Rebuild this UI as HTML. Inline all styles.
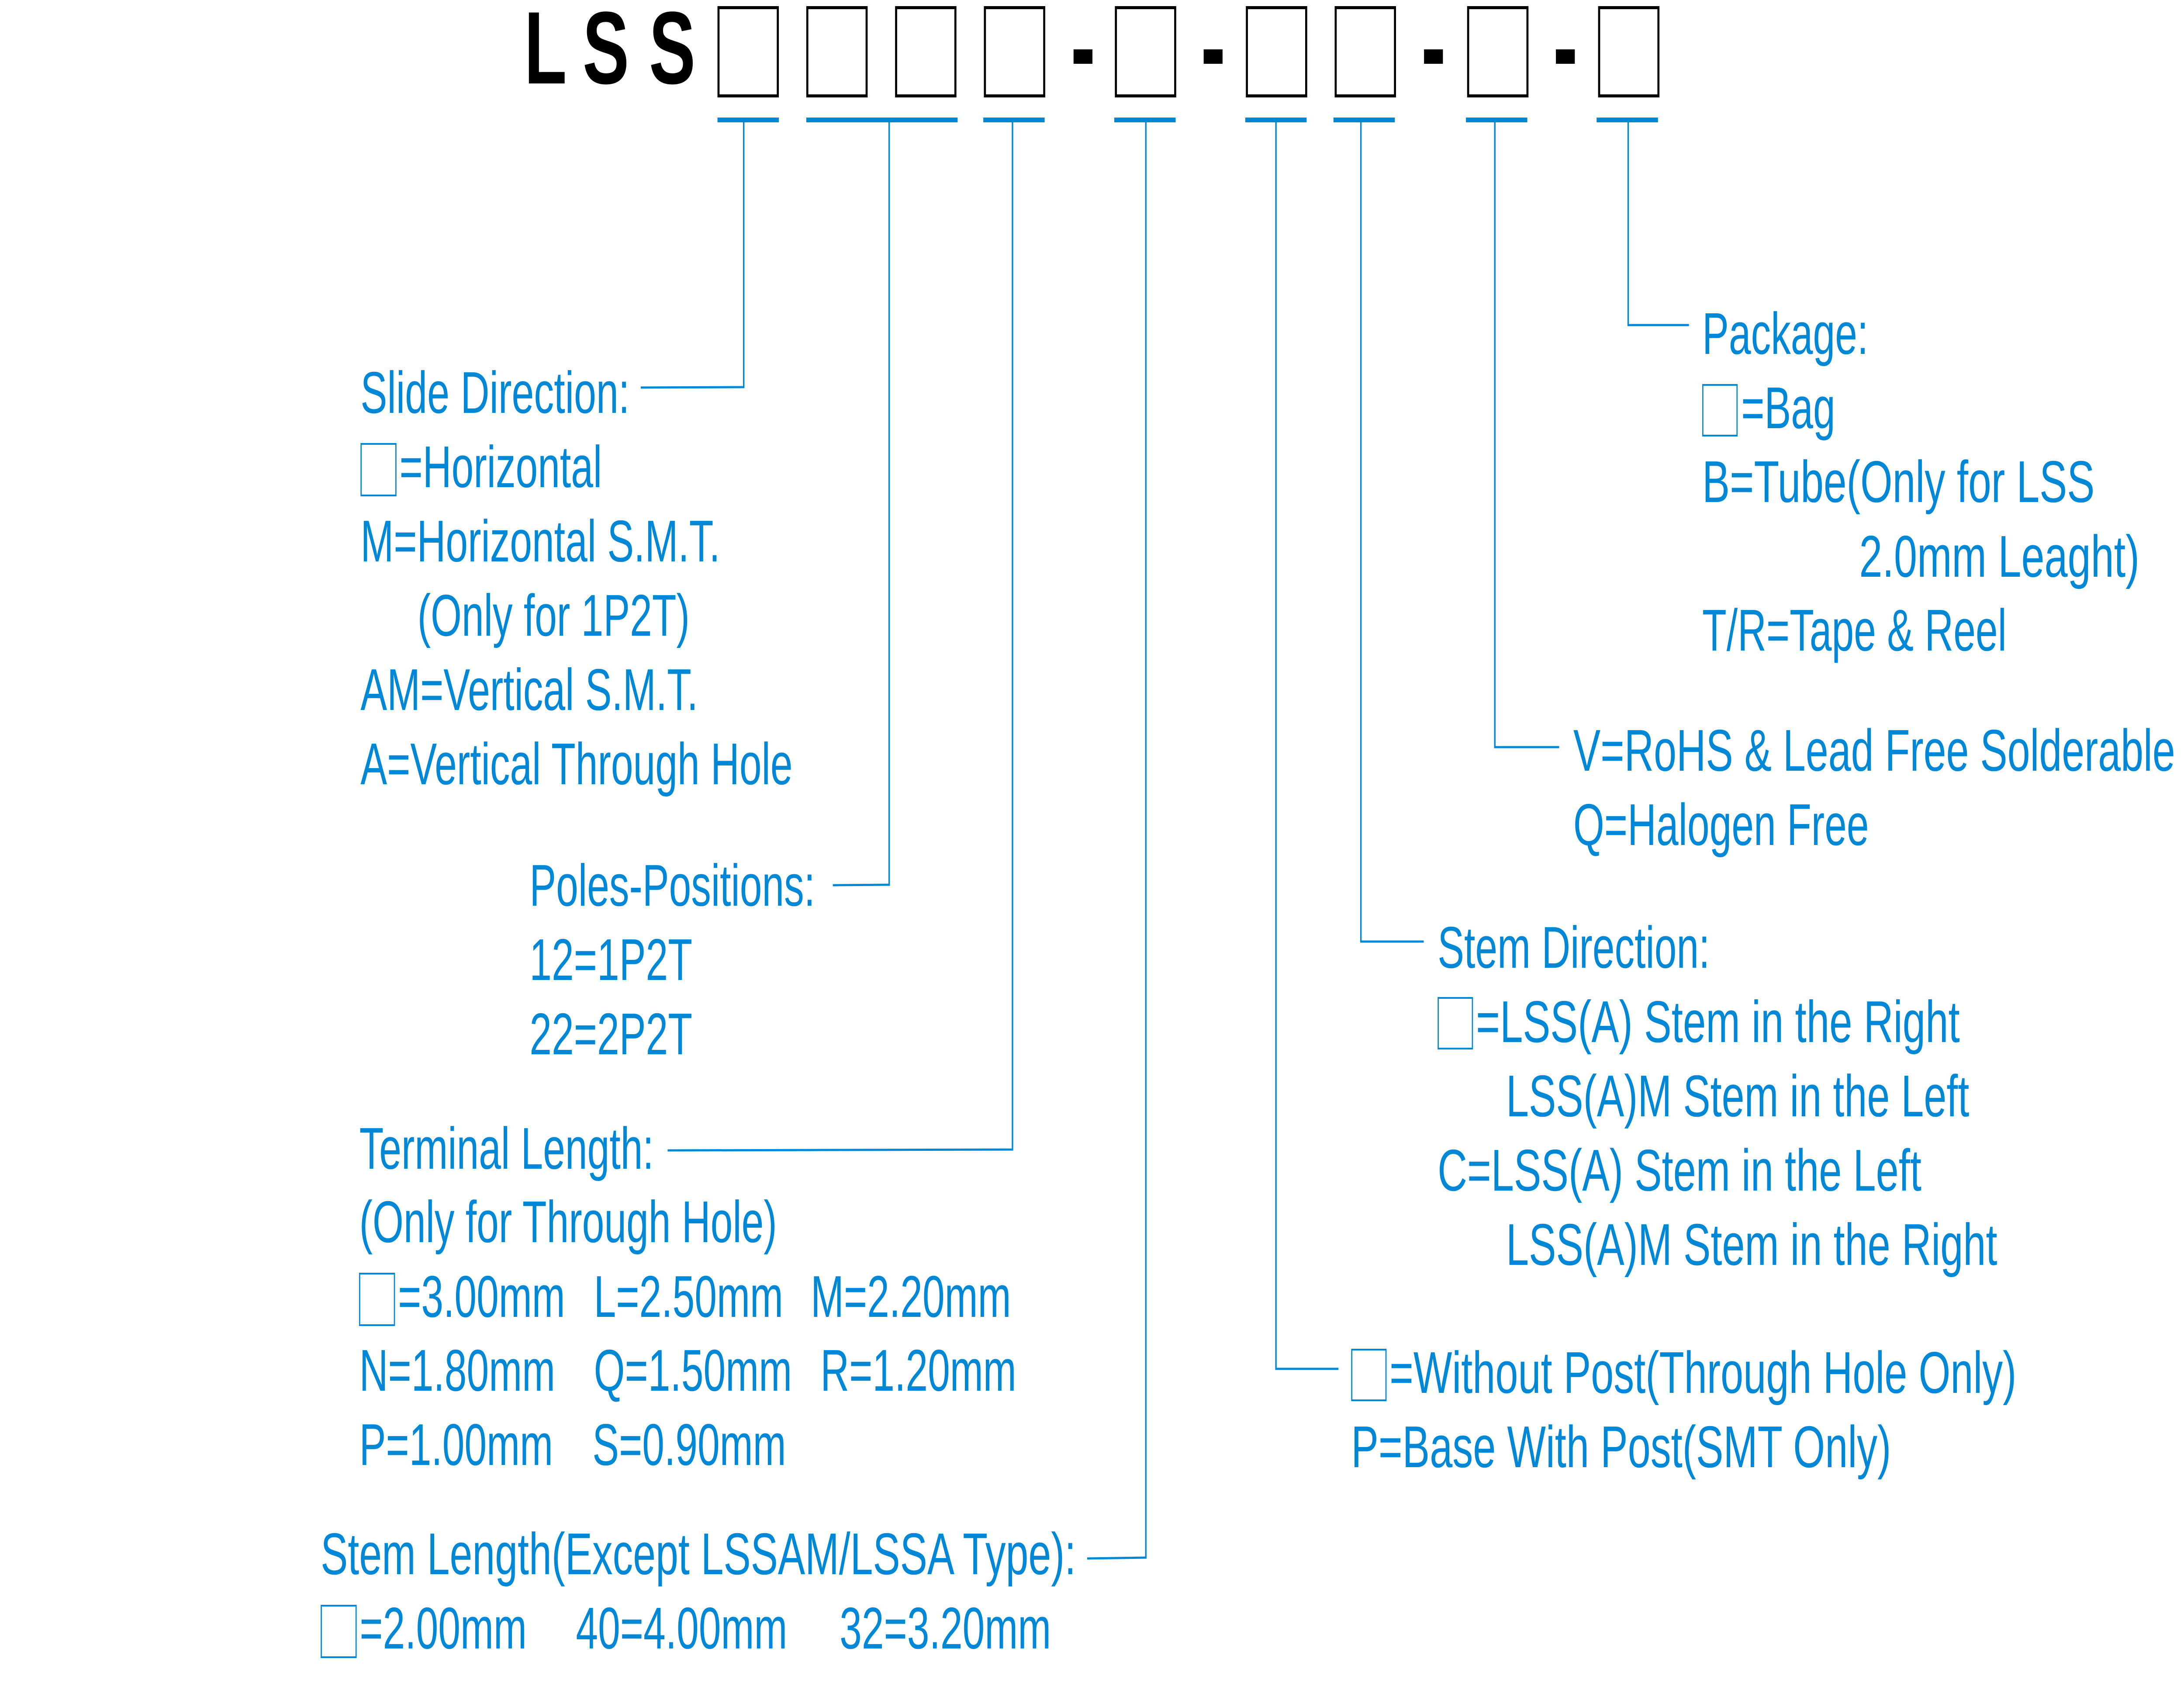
<!DOCTYPE html>
<html><head><meta charset="utf-8"><style>
html,body{margin:0;padding:0;background:#fff;width:100%;height:100%;overflow:hidden;}
svg{display:block;width:100vw;height:100vh;}
text{font-family:"Liberation Sans",Arial,sans-serif;}
.t{fill:#0088d6;font-size:135px;}
.k{fill:#000;font-size:236px;font-weight:bold;}
</style></head><body>
<svg viewBox="0 0 7403 3852" preserveAspectRatio="none" xmlns="http://www.w3.org/2000/svg">
<text class="k" x="1777" y="191">L</text>
<text class="k" x="1975" y="191">S</text>
<text class="k" x="2200" y="191">S</text>
<g fill="none" stroke="#000" stroke-width="7">
<rect x="2435.5" y="17.5" width="201" height="202"/>
<rect x="2736.5" y="17.5" width="201" height="202"/>
<rect x="3037.5" y="17.5" width="201" height="202"/>
<rect x="3338.5" y="17.5" width="201" height="202"/>
<rect x="3782.5" y="17.5" width="201" height="202"/>
<rect x="4226.5" y="17.5" width="201" height="202"/>
<rect x="4527.5" y="17.5" width="201" height="202"/>
<rect x="4976.5" y="17.5" width="201" height="202"/>
<rect x="5420.5" y="17.5" width="201" height="202"/>
</g>
<g fill="#000">
<rect x="3639" y="113" width="64" height="33"/>
<rect x="4080" y="113" width="64" height="33"/>
<rect x="4827" y="113" width="64" height="33"/>
<rect x="5274" y="113" width="64" height="33"/>
</g>
<g fill="#0088d6">
<rect x="2432" y="269" width="208" height="11"/>
<rect x="2733" y="269" width="513" height="11"/>
<rect x="3333" y="269" width="208" height="11"/>
<rect x="3777" y="269" width="208" height="11"/>
<rect x="4221" y="269" width="208" height="11"/>
<rect x="4520" y="269" width="208" height="11"/>
<rect x="4969" y="269" width="208" height="11"/>
<rect x="5412" y="269" width="208" height="11"/>
</g>
<g fill="none" stroke="#0088d6" stroke-width="5">
<polyline points="2521,280 2521,886 2172,887"/>
<polyline points="3014,280 3014,2025 2823,2026"/>
<polyline points="3432,280 3432,2631 2263,2633"/>
<polyline points="3884,280 3884,3565 3685,3567"/>
<polyline points="4325,280 4325,3133 4537,3133"/>
<polyline points="4613,280 4613,2155 4826,2155"/>
<polyline points="5067,280 5067,1710 5285,1710"/>
<polyline points="5519,280 5519,744 5725,744"/>
</g>
<g transform="translate(0,20)">
<g fill="none" stroke="#0088d6" stroke-width="4">
<rect x="1224" y="996" width="118" height="118"/>
<rect x="5772" y="861" width="116" height="116"/>
<rect x="4875" y="2264" width="116" height="116"/>
</g>
<g class="t">
<text x="1222" y="925" textLength="912" lengthAdjust="spacingAndGlyphs">Slide Direction:</text>
<text x="1354" y="1095">=Horizontal</text>
<text x="1222" y="1265">M=Horizontal S.M.T.</text>
<text x="1415" y="1435">(Only for 1P2T)</text>
<text x="1222" y="1605">AM=Vertical S.M.T.</text>
<text x="1222" y="1775">A=Vertical Through Hole</text>
<text x="1795" y="2053">Poles-Positions:</text>
<text x="1795" y="2223">12=1P2T</text>
<text x="1795" y="2393">22=2P2T</text>
<text x="5770" y="790">Package:</text>
<text x="5902" y="960">=Bag</text>
<text x="5770" y="1129" textLength="1330" lengthAdjust="spacingAndGlyphs">B=Tube(Only for LSS</text>
<text x="6302" y="1300" textLength="950" lengthAdjust="spacingAndGlyphs">2.0mm Leaght)</text>
<text x="5770" y="1469">T/R=Tape &amp; Reel</text>
<text x="5333" y="1744" textLength="2040" lengthAdjust="spacingAndGlyphs">V=RoHS &amp; Lead Free Solderable</text>
<text x="5333" y="1914">Q=Halogen Free</text>
<text x="4873" y="2195">Stem Direction:</text>
<text x="5003" y="2365" textLength="1640" lengthAdjust="spacingAndGlyphs">=LSS(A) Stem in the Right</text>
<text x="5105" y="2535" textLength="1570" lengthAdjust="spacingAndGlyphs">LSS(A)M Stem in the Left</text>
<text x="4873" y="2705" textLength="1640" lengthAdjust="spacingAndGlyphs">C=LSS(A) Stem in the Left</text>
<text x="5105" y="2875" textLength="1665" lengthAdjust="spacingAndGlyphs">LSS(A)M Stem in the Right</text>
</g>
</g>
<g transform="translate(0,35)">
<g fill="none" stroke="#0088d6" stroke-width="4">
<rect x="1219" y="2880" width="118" height="118"/>
<rect x="1089" y="3640" width="118" height="118"/>
<rect x="4582" y="3054" width="116" height="116"/>
</g>
<g class="t">
<text x="1218" y="2640">Terminal Length:</text>
<text x="1218" y="2808">(Only for Through Hole)</text>
<text x="1349" y="2979">=3.00mm</text>
<text x="2013" y="2979">L=2.50mm</text>
<text x="2748" y="2979">M=2.20mm</text>
<text x="1218" y="3148">N=1.80mm</text>
<text x="2013" y="3148">Q=1.50mm</text>
<text x="2781" y="3148">R=1.20mm</text>
<text x="1218" y="3318">P=1.00mm</text>
<text x="2008" y="3318">S=0.90mm</text>
<text x="1087" y="3568" textLength="2560" lengthAdjust="spacingAndGlyphs">Stem Length(Except LSSAM/LSSA Type):</text>
<text x="1219" y="3738">=2.00mm</text>
<text x="1952" y="3738">40=4.00mm</text>
<text x="2846" y="3738">32=3.20mm</text>
<text x="4710" y="3153" textLength="2125" lengthAdjust="spacingAndGlyphs">=Without Post(Through Hole Only)</text>
<text x="4580" y="3323" textLength="1830" lengthAdjust="spacingAndGlyphs">P=Base With Post(SMT Only)</text>
</g>
</g>
</svg>
</body></html>
